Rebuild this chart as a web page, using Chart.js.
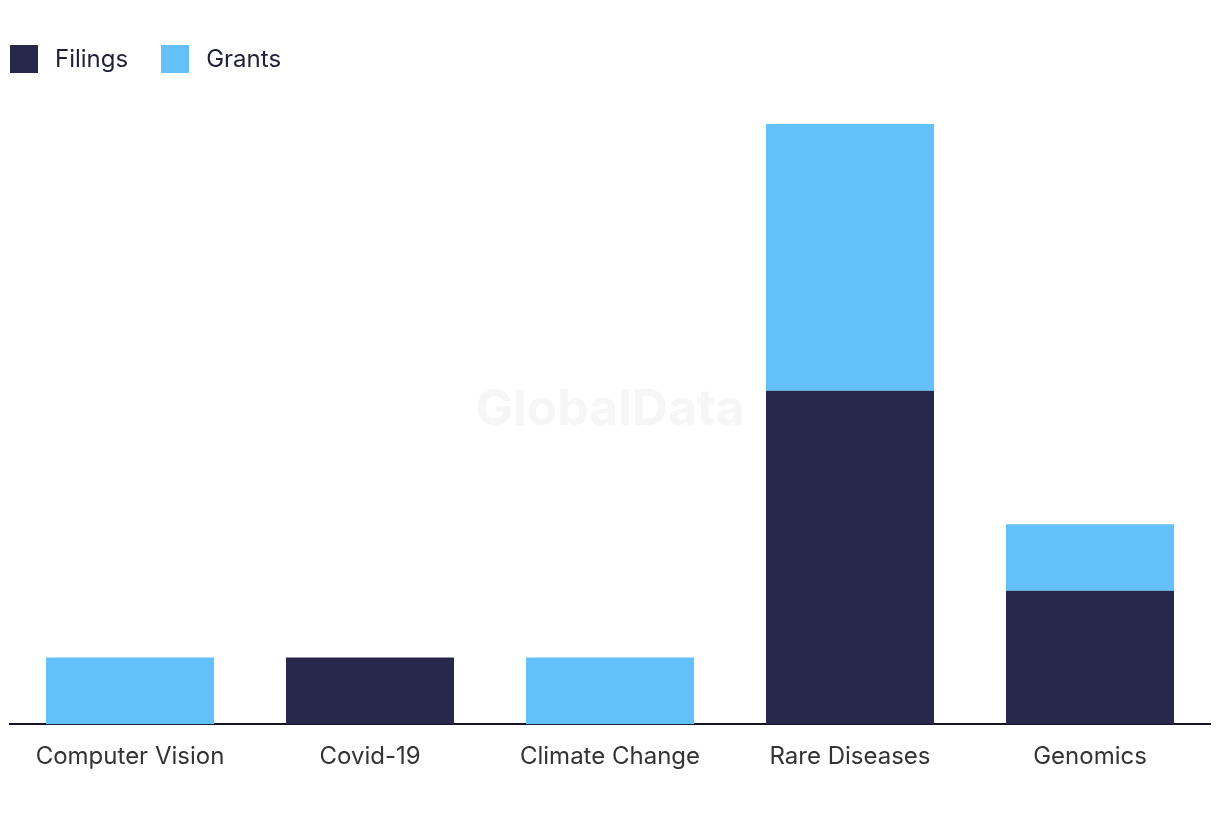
<!DOCTYPE html>
<html>
<head>
<meta charset="utf-8">
<script src="https://cdn.jsdelivr.net/npm/chart.js@4"></script>
<style>
    body { margin: 0; background: #fff; font-family: Inter, "Noto Sans", sans-serif; }
    #wrap { position: relative; width: 1220px; height: 820px; }
    #legend { position: absolute; left: 10px; top: 44px; display: flex; font-size: 24px; color: #1f1f38; }
    .item { display: flex; align-items: center; margin-right: 33px; }
    .box { width: 28px; height: 28px; margin-right: 17px; }
</style>
</head>
<body>
<div id="wrap">
    <div id="legend"></div>
    <canvas id="chart" width="1220" height="820"></canvas>
</div>
<script>
// 데이터
const categories = ['Computer Vision', 'Covid-19', 'Climate Change', 'Rare Diseases', 'Genomics'];
const filings = [0, 1, 0, 5, 2];
const grants = [1, 0, 1, 4, 1];
const seriesNames = ['Filings', 'Grants'];
const seriesColors = ['#27284b', '#62c1f8'];

// 범례
const legendEl = document.getElementById('legend');
seriesNames.forEach((name, i) => {
    const item = document.createElement('div');
    item.className = 'item';
    const box = document.createElement('div');
    box.className = 'box';
    box.style.background = seriesColors[i];
    const label = document.createElement('span');
    label.textContent = name;
    item.appendChild(box);
    item.appendChild(label);
    legendEl.appendChild(item);
});

// 워터마크
const watermark = {
    id: 'watermark',
    beforeDatasetsDraw(chart) {
        const ctx = chart.ctx;
        ctx.save();
        ctx.font = 'bold 50px Inter, "Noto Sans", sans-serif';
        ctx.fillStyle = '#f6f6f6';
        ctx.textAlign = 'center';
        ctx.textBaseline = 'middle';
        ctx.fillText('GlobalData', 610, 410);
        ctx.restore();
    }
};

const ctx = document.getElementById('chart').getContext('2d');
new Chart(ctx, {
    type: 'bar',
    data: {
        labels: categories,
        datasets: [
            { label: seriesNames[0], data: filings, backgroundColor: seriesColors[0] },
            { label: seriesNames[1], data: grants, backgroundColor: seriesColors[1] }
        ]
    },
    options: {
        responsive: false,
        animation: false,
        barPercentage: 0.7,
        categoryPercentage: 1,
        layout: { padding: { top: 124, left: 10, right: 10, bottom: 39 } },
        plugins: {
            legend: { display: false },
            tooltip: { enabled: false }
        },
        scales: {
            x: {
                stacked: true,
                grid: { display: false },
                border: { display: true, color: '#15152a', width: 2 },
                ticks: {
                    color: '#333',
                    padding: 10,
                    font: { size: 24, family: 'Inter, "Noto Sans", sans-serif' }
                }
            },
            y: {
                stacked: true,
                display: false,
                min: 0,
                max: 9
            }
        }
    },
    plugins: [watermark]
});
</script>
</body>
</html>
